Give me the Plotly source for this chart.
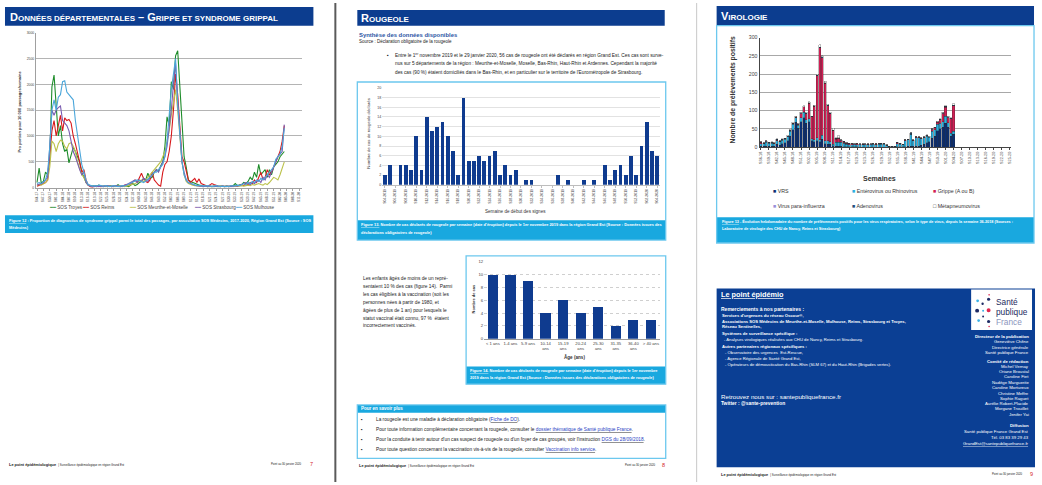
import plotly.graph_objects as go

# ======================= DATA =======================
# --- Figure 12 : SOS Médecins, proportion syndrome grippal (/10 000 passages), weekly from S44-2017
flu_start_year, flu_start_week, flu_n_weeks = 2017, 44, 125
flu_names = ["SOS Troyes", "SOS Reims", "SOS Meurthe-et-Moselle", "SOS Strasbourg", "SOS Mulhouse"]
sos_troyes = [100, 380, 90, 120, 300, 250, 600, 1950, 2180, 1600, 1000, 1200, 850, 700, 750, 480, 650, 780, 700, 600,
              500, 300, 200, 100, 50, 40, 30,
              40, 30, 50, 30, 20, 30, 20, 40, 30, 20, 30, 60, 30, 20, 40, 30, 20, 50, 80, 40, 60, 100, 120, 180,
              150, 280, 180, 200, 300,
              350, 320, 420, 500, 800, 1370, 1200, 2050, 1900, 2550, 2650, 1900, 1100, 600, 400, 150, 120, 100, 80,
              60, 50, 40, 30, 40, 20, 30, 20, 30, 20, 20, 30, 20, 20, 30, 20, 30, 40, 80, 40, 50, 60, 100, 80,
              120, 200, 150, 300, 200, 450, 250, 300, 350, 200, 350, 250, 400, 450, 500, 600, 650, 700]
sos_reims = [30, 40, 60, 80, 100, 150, 600, 1100, 1300, 1000, 1200, 1400, 1100, 1350, 1300, 1320, 1250, 1000, 850, 700,
             500, 300, 350, 150, 50, 20, 10,
             30, 20, 30, 20, 30, 40, 20, 30, 20, 30, 40, 30, 20, 30, 40, 60, 40, 80, 120, 150, 100, 200, 280, 180,
             120, 100, 150, 300, 150,
             100, 50, 30, 300, 450, 500, 700, 1000, 1500, 2200, 1800, 1100, 600, 500, 300, 150, 100, 150, 180,
             100, 170, 80, 60, 40, 30, 50, 80, 60, 40, 30, 20, 30, 20, 30, 20, 30, 20, 40, 30, 50, 60, 40, 80,
             60, 100, 80, 150, 100, 200, 300, 150, 200, 350, 250, 300, 400, 500, 600, 700, 900, 1200]
sos_meurthe = [50, 60, 50, 80, 100, 150, 400, 900, 850, 700, 850, 920, 900, 800, 750, 850, 870, 800, 700, 500,
               350, 250, 200, 100, 50, 30, 20,
               30, 20, 30, 20, 30, 20, 30, 40, 20, 30, 20, 30, 40, 30, 20, 30, 40, 50, 60, 80, 100, 120, 150, 120,
               150, 200, 250, 300, 350,
               400, 450, 500, 600, 700, 900, 1100, 1400, 1700, 1900, 1500, 900, 500, 250, 120, 80, 60, 50, 40,
               40, 30, 30, 20, 30, 20, 20, 30, 20, 20, 30, 20, 20, 20, 30, 20, 20, 30, 20, 30, 30, 40, 30, 40,
               50, 40, 60, 50, 60, 80, 60, 50, 80, 60, 100, 150, 200, 180, 150, 250, 400, 500]
sos_strasbourg = [50, 60, 80, 100, 150, 200, 800, 1500, 1400, 1500, 1550, 1580, 1300, 1250, 1200, 1100, 900, 700, 600,
                  450, 350, 250, 300, 100, 50, 30, 20,
                  20, 30, 20, 30, 20, 30, 40, 30, 20, 30, 40, 30, 20, 30, 40, 60, 80, 100, 120, 150, 100, 150, 120,
                  180, 150, 120, 200, 250, 300,
                  350, 300, 400, 500, 600, 800, 1100, 1500, 2000, 2400, 1700, 1000, 500, 300, 150, 100, 80, 60, 50,
                  40, 30, 30, 20, 30, 20, 30, 20, 20, 30, 20, 20, 30, 20, 20, 30, 20, 30, 40, 30, 50, 60, 80, 100,
                  80, 60, 100, 80, 120, 150, 100, 200, 150, 250, 200, 300, 400, 500, 600, 650, 700, 1220]
sos_mulhouse = [80, 100, 80, 120, 150, 300, 800, 1500, 1700, 1500, 1750, 1800, 2050, 2070, 1850, 1800, 1750, 1700,
                1300, 1000, 700, 450, 300, 150, 60, 40, 30,
                40, 30, 50, 40, 30, 40, 30, 20, 30, 40, 30, 20, 30, 40, 30, 50, 60, 80, 100, 120, 150, 140, 120,
                100, 130, 160, 200, 250, 300,
                300, 350, 400, 450, 600, 900, 1400, 1900, 2200, 2500, 1600, 1000, 500, 250, 150, 100, 80, 60, 50,
                40, 50, 30, 40, 30, 40, 30, 20, 30, 40, 30, 20, 30, 20, 30, 20, 40, 30, 40, 50, 40, 60, 80, 60,
                100, 80, 120, 100, 150, 120, 180, 150, 200, 250, 300, 350, 400, 550, 600, 650, 800, 1150]
flu_colors = ["#1e8c2a", "#d7191c", "#bcc24c", "#7a5cb0", "#4ba6da"]

# --- Figure 13 : rougeole, cas par semaine, from S04-2019
measles_start_year, measles_start_week = 2019, 4
measles_cases = [2, 4, 0, 4, 4, 3, 10, 3, 14, 11, 12, 13, 10, 7, 2, 18, 5, 5, 6, 5,
                 6, 7, 2, 4, 2, 3, 0, 1, 1, 0, 0, 0, 0, 2, 0, 1, 0, 0, 1, 0,
                 1, 0, 4, 1, 3, 4, 2, 6, 2, 8, 13, 7, 6]

# --- Figure 14 : rougeole, cas par âge
age_groups = ["< 1 ans", "1-4 ans", "5-9 ans", "10-14<br>ans", "15-19<br>ans", "20-24<br>ans",
              "25-30<br>ans", "31-35<br>ans", "36-40<br>ans", "> 40 ans"]
age_cases = [10, 10, 9, 4, 6, 4, 5, 2, 3, 3]

# --- Virologie : prélèvements positifs par semaine, from S36-2018
viro_start_year, viro_start_week, viro_n_weeks = 2018, 36, 94
viro_names = ["VRS", "Entérovirus ou Rhinovirus", "Grippe (A ou B)", "Virus para-influenza", "Adenovirus", "Métapneumovirus"]
vrs = [3, 2, 3, 2, 3, 3, 8, 5, 10, 12, 18, 30, 48, 68, 52, 70, 80, 65, 70, 18,
       15, 18, 15, 22, 10, 8, 8, 4, 3, 2, 2, 1, 1, 1, 1, 1, 1, 0, 0, 0,
       0, 0, 0, 0, 0, 0, 0, 0, 0, 0, 0, 1, 1, 1, 1, 2, 2, 2, 3, 3,
       5, 8, 12, 15, 25, 30, 45, 50, 55, 65, 55, 30, 35]
entero = [7, 8, 11, 9, 8, 7, 10, 10, 9, 10, 10, 14, 15, 12, 8, 10, 15, 10, 8, 5,
          5, 8, 5, 10, 8, 10, 7, 4, 10, 12, 12, 10, 7, 6, 6, 5, 6, 6, 7, 6,
          7, 6, 8, 7, 8, 8, 8, 5, 2, 1, 1, 8, 7, 5, 17, 18, 33, 16, 23, 23,
          18, 18, 18, 12, 18, 18, 18, 15, 15, 20, 12, 8, 8]
grippe = [3, 1, 1, 1, 1, 1, 1, 1, 1, 1, 1, 1, 2, 2, 3, 12, 15, 17, 42, 60,
          92, 170, 252, 213, 157, 95, 77, 38, 9, 10, 4, 3, 3, 2, 2, 1, 2, 1, 1, 1,
          1, 1, 1, 1, 1, 1, 1, 0, 0, 0, 0, 3, 1, 0, 1, 1, 1, 1, 1, 1,
          1, 1, 1, 1, 5, 5, 5, 10, 22, 24, 14, 40, 70]
para = [1, 0, 1, 0, 1, 0, 1, 0, 1, 0, 0, 1, 0, 0, 0, 1, 0, 0, 0, 0,
        0, 0, 0, 0, 0, 0, 0, 0, 1, 1, 1, 1, 0, 1, 0, 1, 0, 1, 0, 1,
        0, 1, 0, 1, 0, 1, 0, 0, 0, 0, 0, 0, 1, 0, 1, 0, 1, 0, 1, 0,
        1, 0, 1, 0, 1, 0, 1, 0, 1, 1, 1, 0, 1]
adeno = [1, 1, 1, 1, 1, 1, 2, 1, 1, 1, 1, 1, 1, 1, 1, 1, 1, 1, 1, 1,
         1, 1, 2, 2, 2, 2, 1, 1, 1, 1, 1, 1, 1, 1, 1, 1, 1, 1, 1, 1,
         1, 1, 1, 1, 1, 1, 1, 1, 1, 1, 1, 1, 1, 1, 1, 1, 2, 1, 1, 1,
         1, 1, 1, 1, 1, 1, 1, 1, 1, 2, 1, 1, 1]
metapneumo = [0, 0, 1, 1, 1, 1, 1, 1, 1, 1, 2, 2, 2, 2, 1, 2, 2, 2, 4, 1,
              2, 3, 6, 3, 3, 3, 2, 5, 2, 5, 1, 0, 0, 0, 0, 0, 0, 0, 0, 0,
              0, 0, 0, 0, 0, 0, 0, 0, 0, 0, 0, 0, 0, 0, 0, 0, 0, 0, 0, 0,
              0, 0, 1, 1, 1, 1, 1, 2, 2, 2, 2, 1, 4]
viro_colors = ["#0b2f73", "#2bb0e0", "#d21f55", "#9a8fd8", "#24507e", "#ffffff"]


def week_labels(year, week, n, two_digit):
    out = []
    for _ in range(n):
        yy = year % 100 if two_digit else year
        out.append(f"S{week:02d}-{yy:02d}" if two_digit else f"S{week:02d}-{yy}")
        week += 1
        if week > 52:
            week, year = 1, year + 1
    return out


flu_weeks = week_labels(flu_start_year, flu_start_week, flu_n_weeks, True)
measles_weeks = week_labels(measles_start_year, measles_start_week, len(measles_cases), False)
viro_weeks = week_labels(viro_start_year, viro_start_week, viro_n_weeks, True)

# ======================= STYLE / LAYOUT HELPERS =======================
W, H = 1042, 485
FONT = "Liberation Sans, Arial, sans-serif"
HDR = "#0c3d8f"
CAP = "#19a8df"
BORDER = "#6cc8ee"
BAR = "#0f3b8f"
TXT = "#1a1a1a"


def px(x):
    return x / W


def py(y):
    return 1 - y / H


shapes, annos = [], []


def rect(x0, y0, x1, y1, fill=None, line=None, lw=0, layer="below"):
    shapes.append(dict(type="rect", xref="paper", yref="paper", x0=px(x0), x1=px(x1), y0=py(y1), y1=py(y0),
                       fillcolor=fill if fill else "rgba(0,0,0,0)",
                       line=dict(color=line if line else "rgba(0,0,0,0)", width=lw), layer=layer))


def vline(x, y0, y1, color, lw):
    shapes.append(dict(type="line", xref="paper", yref="paper", x0=px(x), x1=px(x), y0=py(y0), y1=py(y1),
                       line=dict(color=color, width=lw), layer="above"))


def circ(cx, cy, r, color):
    shapes.append(dict(type="circle", xref="paper", yref="paper", x0=px(cx - r), x1=px(cx + r),
                       y0=py(cy + r), y1=py(cy - r), fillcolor=color, line=dict(width=0), layer="above"))


def txt(x, y, s, size=5, color=TXT, bold=False, anchor="left", angle=0):
    annos.append(dict(x=px(x), y=py(y), xref="paper", yref="paper", text=f"<b>{s}</b>" if bold else s,
                      showarrow=False, xanchor=anchor, yanchor="middle", textangle=angle, borderpad=0,
                      font=dict(size=size, color=color, family=FONT)))


def sc(first, rest, big=11, small=8):
    return f"{first}<span style='font-size:{small}px'>{rest}</span>"


def link(s):
    return f"<u><span style='color:#2a3fc4'>{s}</span></u>"


# ======================= PAGE FRAMES =======================
vline(335, 0, 485, "#5a5a5a", 2)
vline(697, 0, 485, "#c8c8c8", 1)

# ---- Page 1
rect(4, 4, 313, 23, fill=HDR)
txt(8, 14, "<b>" + sc("D", "ONNÉES DÉPARTEMENTALES") + " – " + sc("G", "RIPPE ET SYNDROME GRIPPAL") + "</b>",
    size=11, color="white")
rect(4, 215, 313, 233, fill=CAP)
txt(7, 220, "<u>Figure 12</u> : Proportion de diagnostics de syndrome grippal parmi le total des passages, par association SOS Médecins, 2017-2020, Région Grand Est (Source : SOS",
    size=3.9, color="white", bold=True)
txt(7, 227.5, "Médecins)", size=3.9, color="white", bold=True)
txt(19, 110, "Pro portion pour 10 000 passages/semaine", size=4, color="#333", bold=True, anchor="center", angle=-90)
leg_x = [47, 80, 127, 192, 233]
for x, n, c in zip(leg_x, flu_names, flu_colors):
    txt(x, 207, f"<span style='color:{c}'>━━</span> {n}", size=4.6, color="#444")
txt(7, 467, "<b>Le point épidémiologique</b>  <span style='font-size:2.9px'>| Surveillance épidémiologique en région Grand Est</span>", size=3.9)
txt(303, 467, "Point au 30 janvier 2020", size=2.8, anchor="right")
txt(309, 466.5, "7", size=5.5, color="#d4252c")

# ---- Page 2
rect(357, 7, 665, 23, fill=HDR)
txt(360, 15, "<b>" + sc("R", "OUGEOLE") + "</b>", size=11, color="white")
txt(358, 32, "Synthèse des données disponibles", size=5.9, color="#2d56a4", bold=True)
txt(358, 39, "Source : Déclaration obligatoire de la rougeole", size=4.5)
txt(386, 52.7, "▪", size=5)
para_lines = ["Entre le 1<sup>er</sup> novembre 2019 et le 29 janvier 2020, 56 cas de rougeole ont été déclarés en région Grand Est. Ces cas sont surve-",
              "nus sur 5 départements de la région : Meurthe-et-Moselle, Moselle, Bas-Rhin, Haut-Rhin et Ardennes. Cependant la majorité",
              "des cas (90 %) étaient domiciliés dans le Bas-Rhin, et en particulier sur le territoire de l'Eurométropole de Strasbourg."]
for i, s in enumerate(para_lines):
    txt(394, 52.7 + 9 * i, s, size=4.75)

rect(357, 80, 666, 240, line=BORDER, lw=1.3, layer="above")
rect(357, 220, 666, 240, fill=CAP)
txt(360, 224.5, "<u>Figure 13.</u> Nombre de cas déclarés de rougeole par semaine (date d'éruption) depuis le 1er novembre 2019 dans la région Grand Est (Source : Données issues des",
    size=3.9, color="white", bold=True)
txt(360, 232, "déclarations obligatoires de rougeole)", size=3.9, color="white", bold=True)
txt(368, 132, "Nombre de cas de rougeole déclarés", size=4.3, color="#333", anchor="center", angle=-90)
txt(515, 211, "Semaine de début des signes", size=4.6, color="#333", anchor="center")

left_lines = ["Les enfants âgés de moins de un repré-", "sentaient 10 % des cas (figure 14).  Parmi",
              "les cas éligibles à la vaccination (soit les", "personnes nées à partir de 1980, et",
              "âgées de plus de 1 an) pour lesquels le", "statut vaccinal était connu, 97 %  étaient",
              "incorrectement vaccinés."]
for i, s in enumerate(left_lines):
    txt(362, 279 + 8 * i, s, size=4.8)

rect(466, 256, 666, 386, line=BORDER, lw=1.3, layer="above")
rect(466, 368, 666, 386, fill=CAP)
txt(469, 372, "<u>Figure 14.</u> Nombre de cas déclarés de rougeole par semaine (date d'éruption) depuis le 1er novembre",
    size=3.9, color="white", bold=True)
txt(469, 379, "2019 dans la région Grand Est (Source : Données issues des déclarations obligatoires de rougeole)",
    size=3.9, color="white", bold=True)
txt(473, 300, "Nombre de cas", size=4, color="#333", bold=True, anchor="center", angle=-90)
txt(575, 358, "Âge (ans)", size=4.6, color="#333", bold=True, anchor="center")

rect(357, 407, 666, 461, line=BORDER, lw=1.3, layer="above")
rect(357, 407, 666, 415, fill=CAP)
txt(360, 411, "Pour en savoir plus", size=4.5, color="white", bold=True)
bullets = ["La rougeole est une maladie à déclaration obligatoire (" + link("Fiche de DO") + ").",
           "Pour toute information complémentaire concernant la rougeole, consulter le " + link("dossier thématique de Santé publique France") + ".",
           "Pour la conduite à tenir autour d'un cas suspect de rougeole ou d'un foyer de cas groupés, voir l'instruction " + link("DGS du 28/09/2018") + ".",
           "Pour toute question concernant la vaccination vis-à-vis de la rougeole, consulter " + link("Vaccination info service") + "."]
for i, s in enumerate(bullets):
    yy = 422 + 10.1 * i
    txt(360, yy, "▪", size=4.6)
    txt(375, yy, s, size=4.75)
txt(358, 468, "<b>Le point épidémiologique</b>  <span style='font-size:2.9px'>| Surveillance épidémiologique en région Grand Est</span>", size=3.9)
txt(657, 468, "Point au 30 janvier 2020", size=2.8, anchor="right")
txt(661, 467.5, "8", size=5.5, color="#d4252c")

# ---- Page 3
rect(717, 3, 1035, 23, fill=HDR)
txt(720, 13.5, "<b>" + sc("V", "IROLOGIE") + "</b>", size=11, color="white")
rect(717, 23, 1035, 243, line=BORDER, lw=1.3, layer="above")
rect(717, 217, 1035, 243, fill=CAP)
txt(721, 221, "<u>Figure 13</u> - Évolution hebdomadaire du nombre de prélèvements positifs pour les virus respiratoires, selon le type de virus, depuis la semaine 36-2018 (Sources :",
    size=3.8, color="white", bold=True)
txt(721, 229, "Laboratoire de virologie des CHU de Nancy, Reims et Strasbourg)", size=3.8, color="white", bold=True)
txt(733, 88, "Nombre de prélèvements positifs", size=6.8, color="#333", bold=True, anchor="center", angle=-90)
txt(880, 178, "Semaines", size=7, color="#333", bold=True, anchor="center")
vleg = [(772, 190), (852, 190), (933, 190), (772, 206), (852, 206), (933, 206)]
for (x, y), n, c in zip(vleg, viro_names, viro_colors):
    sym = "<span style='color:#333'>□</span>" if c == "#ffffff" else f"<span style='color:{c}'>■</span>"
    txt(x, y, f"{sym} {n}", size=5.3, color="#333")

rect(717, 289, 1036, 470, fill="#0b3f94")
rect(972, 290, 1033, 331, fill="white")
logo_dots = [(978.5, 301.5, 1.4, "#3bb2e6"), (983.5, 304.5, 1.2, "#1d2a64"), (989.5, 300, 1.6, "#1d2a64"),
             (990, 295.5, 0.8, "#e0284f"), (978, 311.5, 2.0, "#1d2a64"), (984, 311.5, 1.0, "#3bb2e6"),
             (989.5, 311, 2.0, "#e0284f"), (979.5, 321.5, 1.4, "#3bb2e6"), (984, 317.5, 1.0, "#1d2a64"),
             (989.5, 322.5, 1.6, "#1d2a64"), (990, 327.5, 0.8, "#e0284f")]
for cx, cy, r, c in logo_dots:
    circ(cx, cy, r, c)
txt(996, 303, "Santé", size=8.3, color="#1d2a5e")
txt(996, 313, "publique", size=8.3, color="#1d2a5e")
txt(996, 323, "France", size=8.3, color="#8c95bd")

txt(720, 295.5, "<u>Le point épidémio</u>", size=7.3, color="white", bold=True)
txt(720, 310, "Remerciements à nos partenaires :", size=5, color="white", bold=True)
thanks = [("Services d'urgences du réseau Oscour®,", True, 721),
          ("Associations SOS Médecins de Meurthe-et-Moselle, Mulhouse, Reims, Strasbourg et Troyes,", True, 721),
          ("Réseau Sentinelles,", True, 721),
          ("Systèmes de surveillance spécifique :", True, 721),
          ("- Analyses virologiques réalisées aux CHU de Nancy, Reims et Strasbourg.", False, 723),
          ("Autres partenaires régionaux spécifiques :", True, 721),
          ("- Observatoire des urgences  Est-Rescue,", False, 724),
          ("- Agence Régionale de Santé Grand Est,", False, 724),
          ("- Opérateurs de démoustication du Bas-Rhin (SLM 67) et du Haut-Rhin (Brigades vertes).", False, 724)]
thank_y = [316, 322, 328, 335, 341, 348, 353.5, 360, 366.5]
for (s, b, x), y in zip(thanks, thank_y):
    txt(x, y, s, size=4.2, color="white", bold=b)
txt(720, 398, "Retrouvez nous sur : santepubliquefrance.fr", size=6.2, color="white")
txt(720, 406, "Twitter : @sante-prevention", size=4.9, color="white", bold=True)

credits = [("Directeur de la publication", True), ("Geneviève Chêne", False), ("Directrice générale", False),
           ("Santé publique France", False), ("Comité de rédaction", True), ("Michel Vernay", False),
           ("Oriane Broustal", False), ("Caroline Fiet", False), ("Nadège Marguerite", False),
           ("Caroline Mortureux", False), ("Christine Meffre", False), ("Sophie Raguet", False),
           ("Aurélie Robert-Placide", False), ("Morgane Trouillet", False), ("Jenifer Yai", False),
           ("Diffusion", True), ("Santé publique France Grand Est", False), ("Tél. 03 83 39 29 43", False),
           ("<u>GrandEst@santepubliquefrance.fr</u>", False)]
credit_y = [338, 343, 348.5, 353.5, 363, 368, 373.5, 378.5, 384, 389.5, 395, 400.5, 405.5, 411, 416.5,
            428, 434, 440, 446]
for (s, b), y in zip(credits, credit_y):
    txt(1031, y, s, size=4.3, color="white", bold=True if b else False, anchor="right")

txt(720, 477, "<b>Le point épidémiologique</b>  <span style='font-size:2.9px'>| Surveillance épidémiologique en région Grand Est</span>", size=3.9)
txt(1025, 477, "Point au 30 janvier 2020", size=2.8, anchor="right")
txt(1030, 476.5, "9", size=5.5, color="#d4252c")

# ======================= TRACES =======================
fig = go.Figure()
for n, vals, c in zip(flu_names, [sos_troyes, sos_reims, sos_meurthe, sos_strasbourg, sos_mulhouse], flu_colors):
    fig.add_trace(go.Scatter(x=flu_weeks, y=vals + [None] * (len(flu_weeks) - len(vals)), mode="lines",
                             line=dict(color=c, width=1.1), name=n, xaxis="x", yaxis="y", connectgaps=False))

fig.add_trace(go.Bar(x=measles_weeks, y=measles_cases, marker=dict(color=BAR, line=dict(width=0)), width=0.72,
                     name="Rougeole", xaxis="x2", yaxis="y2"))
fig.add_trace(go.Bar(x=age_groups, y=age_cases, marker=dict(color=BAR, line=dict(width=0)), width=0.58,
                     name="Âge", xaxis="x3", yaxis="y3"))
for n, vals, c in zip(viro_names, [vrs, entero, grippe, para, adeno, metapneumo], viro_colors):
    fig.add_trace(go.Bar(x=viro_weeks[:len(vals)], y=vals, name=n, width=0.78,
                         marker=dict(color=c, line=dict(color="#2a2a2a", width=0.3)), xaxis="x4", yaxis="y4"))

tickf = lambda s: dict(size=s, color="#444", family=FONT)
fig.update_layout(
    width=W, height=H, autosize=False, margin=dict(l=0, r=0, t=0, b=0),
    paper_bgcolor="white", plot_bgcolor="rgba(0,0,0,0)", barmode="stack", showlegend=False,
    hovermode=False,
    font=dict(family=FONT, size=5, color="#333"),
    xaxis=dict(domain=[px(35), px(302)], anchor="y", type="category", categoryorder="array",
               categoryarray=flu_weeks, tickmode="array", tickvals=flu_weeks[::3], tickangle=-90,
               tickfont=tickf(3.2), showgrid=False, showline=True, linecolor="#a0a0a0", linewidth=1,
               ticks="outside", ticklen=2, tickcolor="#a0a0a0", range=[-0.5, len(flu_weeks) - 0.5]),
    yaxis=dict(domain=[py(187), py(30)], anchor="x", range=[0, 3000], dtick=500, showgrid=True,
               gridcolor="#b4b4b4", gridwidth=1, showline=True, linecolor="#a0a0a0", zeroline=False,
               tickfont=tickf(3.4)),
    xaxis2=dict(domain=[px(382), px(660)], anchor="y2", type="category", categoryorder="array",
                categoryarray=measles_weeks, tickmode="array", tickvals=measles_weeks[::2], tickangle=-90,
                tickfont=tickf(3.4), showgrid=False, showline=True, linecolor="#bdbdbd", ticks="outside",
                ticklen=2, tickcolor="#bdbdbd", range=[-0.5, len(measles_weeks) - 0.5]),
    yaxis2=dict(domain=[py(184), py(86)], anchor="x2", range=[0, 20], dtick=2, showgrid=True,
                gridcolor="#e2e2e2", gridwidth=1, showline=False, zeroline=False, tickfont=tickf(3.6)),
    xaxis3=dict(domain=[px(484), px(660)], anchor="y3", type="category", tickfont=tickf(4.2), showgrid=False,
                showline=True, linecolor="#9a9a9a", ticks="", range=[-0.5, len(age_groups) - 0.5]),
    yaxis3=dict(domain=[py(340), py(262)], anchor="x3", range=[0, 12], dtick=2, showgrid=True,
                gridcolor="#cfcfcf", griddash="dot", gridwidth=1, showline=False, zeroline=False,
                tickfont=tickf(4.2)),
    xaxis4=dict(domain=[px(760), px(1012)], anchor="y4", type="category", categoryorder="array",
                categoryarray=viro_weeks, tickmode="array", tickvals=viro_weeks[::3], tickangle=-90,
                tickfont=tickf(3.8), showgrid=False, showline=True, linecolor="#444", ticks="outside",
                ticklen=2, tickcolor="#444", range=[-0.5, len(viro_weeks) - 0.5]),
    yaxis4=dict(domain=[py(146), py(35)], anchor="x4", range=[0, 300], dtick=50, showgrid=True,
                gridcolor="#a8a8a8", gridwidth=1, showline=True, linecolor="#444", zeroline=False,
                tickfont=tickf(5.2)),
    shapes=shapes, annotations=annos,
)

fig.write_html("out.html", config={"displayModeBar": False, "staticPlot": True},
               post_script="document.body.style.margin='0';document.body.style.overflow='hidden';"
                           "document.documentElement.style.overflow='hidden';")
